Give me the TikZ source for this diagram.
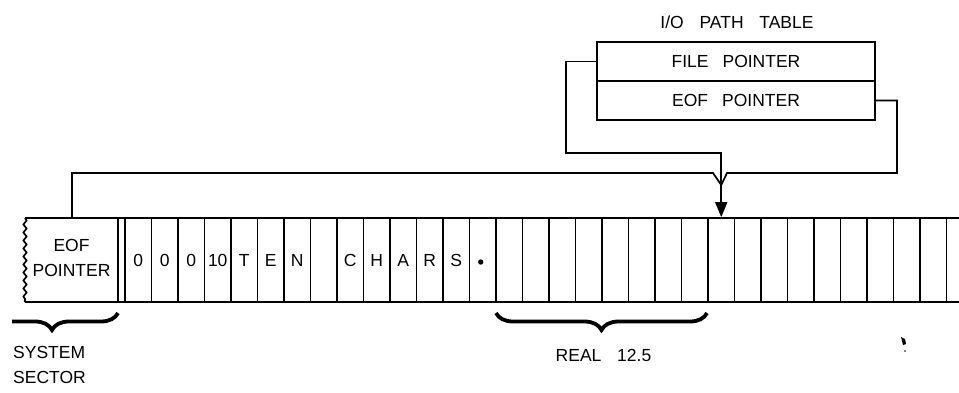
\documentclass[tikz,border=0pt]{standalone}
\usepackage{fontspec}
\setmainfont{Liberation Sans}
\usetikzlibrary{arrows.meta,decorations.pathmorphing,decorations.pathreplacing}
\begin{document}
\begin{tikzpicture}[x=1pt,y=-1pt,
  every node/.style={font=\fontsize{17.5}{25}\selectfont},
  ln/.style={line width=1.7pt},
  cell/.style={draw,line width=1.7pt,minimum width=26.5pt,minimum height=84pt,inner sep=0pt},
  tbl/.style={draw,line width=1.7pt,minimum width=278pt,minimum height=39pt,inner sep=0pt},
  bigbrace/.style={decorate,decoration={brace,amplitude=17pt},line width=3.8pt}]
\useasboundingbox (0,0) rectangle (959,392);
\clip (0,0) rectangle (959,392);
% strip outline
\draw[ln] (25,218) -- (959,218);
\draw[ln] (25,302) -- (959,302);
\draw[ln,decorate,decoration={snake,amplitude=1.6pt,segment length=8pt}] (25,218) -- (25,302);
\draw[ln] (118,218) -- (118,302);
\node[align=center] (sys) at (71.5,258) {EOF\\POINTER};
% cells
\foreach \i/\t in {0/0,1/0,2/0,3/10,4/T,5/E,6/N,7/{},8/C,9/H,10/A,11/R,12/S,13/{},
  14/{},15/{},16/{},17/{},18/{},19/{},20/{},21/{},22/{},23/{},24/{},25/{},26/{},27/{},28/{},29/{},30/{}}
  \node[cell] (c\i) at ({125+26.5*\i+13.25},260) {\t};
\fill ([xshift=-2pt,yshift=-2pt]c13.center) circle (2.7pt);
% I/O path table
\node (title) at (737,22) {I/O\hspace{0.9em}PATH\hspace{0.9em}TABLE};
\node[tbl] (filep) at (736,61.5) {FILE\hspace{0.8em}POINTER};
\node[tbl] (eofp) at (736,100.5) {EOF\hspace{0.8em}POINTER};
% connectors
\coordinate (sysptr) at (72,218);
\coordinate (j) at (c22.north |- 0,185);
\draw[ln] (sysptr) -- (72,173) -- (713,173) -- (j);
\draw[ln] (eofp.east) -- (897,100.5) -- (897,173) -- (727,173) -- (j);
\draw[ln,-{Triangle[length=15pt,width=12pt]}] (filep.west) -- (566,61.5) -- (566,153) -- (c22.north |- 0,153) -- (c22.north);
% braces
\draw[bigbrace] (707,313) -- (496,313);
\begin{scope}
\clip (12,305) rectangle (130,340);
\draw[bigbrace] (118,313) -- (-14,313);
\end{scope}
\node[anchor=north west,align=left,inner sep=0pt] (sslabel) at (13,346) {SYSTEM\\SECTOR};
\node (real) at (603.5,355) {REAL\hspace{0.9em}12.5};
% speck
\fill (901,337) -- (905,339) -- (906,344) -- (903,345) -- cycle;
\fill (905,351) circle (0.8pt);
\end{tikzpicture}
\end{document}
